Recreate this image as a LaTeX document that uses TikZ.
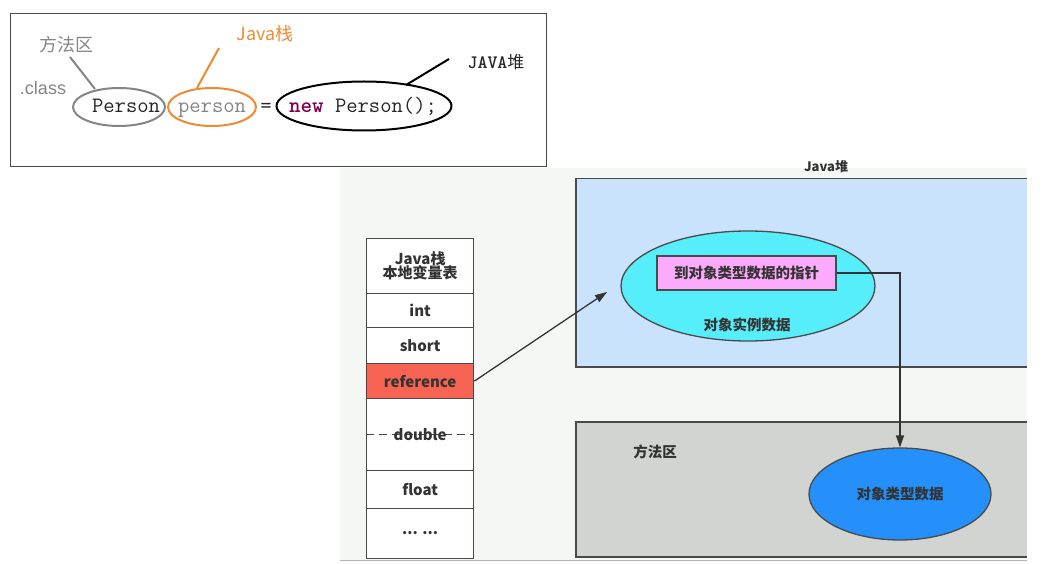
\documentclass[tikz,border=0pt]{standalone}
\usepackage{fontspec}
\setmainfont{Noto Sans CJK SC}
\newfontfamily\arialfont{Liberation Sans}
\usetikzlibrary{shapes.geometric,arrows.meta}
\definecolor{frame}{HTML}{4A4A4A}
\definecolor{orangeC}{HTML}{F08A30}
\definecolor{grayC}{HTML}{858585}
\definecolor{kw}{HTML}{7F0055}
\definecolor{heapC}{HTML}{C8E3FB}
\definecolor{cyanC}{HTML}{55EEFA}
\definecolor{pinkC}{HTML}{FCAAFC}
\definecolor{methC}{HTML}{D2D4D2}
\definecolor{blueC}{HTML}{2590FA}
\definecolor{refC}{HTML}{F86454}
\definecolor{panelC}{HTML}{F5F7F5}
\definecolor{txtC}{HTML}{333333}
\tikzset{
  cell/.style={draw=frame, line width=1.3pt, minimum width=107pt, anchor=north west, inner sep=0pt, font=\fontsize{15}{17}\selectfont\bfseries, text=txtC, align=center},
  region/.style={draw=frame, line width=1.5pt, anchor=north west, inner sep=0pt},
  oval/.style={ellipse, draw=frame, line width=1.3pt, inner sep=0pt},
  cjk/.style={font=\fontsize{14.5}{17}\selectfont\bfseries, text=txtC},
  code/.style={font=\ttfamily\fontsize{22}{24}\selectfont, text=black!85, anchor=base},
  arr/.style={draw=txtC, line width=1.3pt, -{Triangle[length=12pt,width=8pt]}},
  ring/.style={ellipse, line width=2pt, inner sep=0pt}
}
\begin{document}
\begin{tikzpicture}[x=1pt,y=-1pt]
\useasboundingbox (0,0) rectangle (1061,564);
\fill[white] (0,0) rectangle (1061,564);
\fill[panelC] (340,168) rectangle (1027,560);
\draw[gray!60, line width=1pt] (340,560) -- (1027,560);

% top code box
\node[draw=frame, line width=1.2pt, minimum width=536pt, minimum height=153pt, anchor=north west, inner sep=0pt] (codebox) at (10,13) {};
\node[ring, draw=grayC, minimum width=92pt, minimum height=38pt] (e1) at (119,107) {};
\node[ring, draw=orangeC, minimum width=88pt, minimum height=38pt] (e2) at (212,107) {};
\node[ring, draw=black, minimum width=175pt, minimum height=49pt] (e3) at (364,106) {};
\node[code] (t1) at (126,113) {Person};
\node[code, text=grayC] (t2) at (212,113) {person};
\node[code] (eq) at (266,113) {=};
\node[code] (t3) at (363,113) {\textcolor{kw}{\textbf{new}} Person();};
\node[font=\fontsize{18}{20}\selectfont, text=grayC] (l1) at (66,45) {方法区};
\node[font=\arialfont\fontsize{18}{20}\selectfont, text=grayC] (l0) at (43,88) {.class};
\node[font=\fontsize{18}{20}\selectfont, text=orangeC] (l2) at (265,34) {Java栈};
\node[font=\fontsize{17}{20}\selectfont, text=black!85] (l3) at (496,62) {{\ttfamily\fontsize{19}{20}\selectfont\bfseries JAVA}堆};
\coordinate (a1) at (70,57); \coordinate (b1) at (95,89);
\coordinate (a2) at (219,48); \coordinate (b2) at (197,88);
\coordinate (a3) at (449,59); \coordinate (b3) at (406,85);
\draw[grayC, line width=2pt] (a1) -- (b1);
\draw[orangeC, line width=2pt] (a2) -- (b2);
\draw[black, line width=2pt] (a3) -- (b3);

% stack
\node[cell, minimum height=55pt, fill=white] (hdr) at (366,238) {Java栈\\[-3pt]本地变量表};
\node[cell, minimum height=34pt, fill=white] (int) at (366,293) {int};
\node[cell, minimum height=36pt, fill=white] (short) at (366,327) {short};
\node[cell, minimum height=35pt, fill=refC] (ref) at (366,363) {reference};
\node[cell, minimum height=72pt, fill=white] (dbl) at (366,398) {};
\draw[frame, line width=1.5pt, dash pattern=on 8pt off 5pt] (dbl.west) -- (dbl.east);
\node[cjk, font=\fontsize{15}{17}\selectfont\bfseries] (dbltxt) at (dbl.center) {double};
\node[cell, minimum height=38pt, fill=white] (flt) at (366,470) {float};
\node[cell, minimum height=50pt, fill=white] (more) at (366,508) {\raisebox{2pt}{... ...}};

% heap
\node[font=\fontsize{13}{15}\selectfont\bfseries, text=txtC] (heaplbl) at (826,167) {Java堆};
\node[region, fill=heapC, minimum width=455pt, minimum height=188pt] (heap) at (575,178) {};
\node[oval, fill=cyanC, minimum width=254pt, minimum height=110pt] (inst) at (748,286) {};
\node[draw=frame, line width=1.3pt, fill=pinkC, minimum width=179pt, minimum height=34pt, inner sep=0pt, cjk] (ptr) at (746.5,273) {到对象类型数据的指针};
\node[cjk] (instlbl) at (747,325) {对象实例数据};

% method area
\node[region, fill=methC, minimum width=455pt, minimum height=135pt] (meth) at (575,421) {};
\node[cjk] (methlbl) at (655,452) {方法区};
\node[oval, fill=blueC, minimum width=182pt, minimum height=92pt, cjk] (typ) at (900,494) {对象类型数据};

% white strip at right
\fill[white] (1027,160) rectangle (1061,564);

% connectors
\coordinate (tip) at (607,292);
\draw[arr] (ref.east) -- (tip);
\draw[arr] (ptr.east) -| (typ.north);
\end{tikzpicture}
\end{document}
